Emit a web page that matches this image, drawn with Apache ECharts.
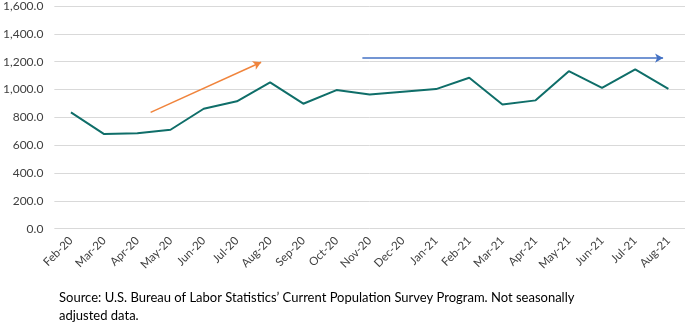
<!DOCTYPE html>
<html>
<head>
<meta charset="utf-8">
<script src="https://cdn.jsdelivr.net/npm/echarts@6/dist/echarts.min.js"></script>
<style>
  html, body { margin: 0; padding: 0; background: #fff; }
  #chart { width: 685px; height: 325px; }
</style>
</head>
<body>
<div id="chart"></div>
<script>
const months = ['Feb-20', 'Mar-20', 'Apr-20', 'May-20', 'Jun-20', 'Jul-20', 'Aug-20', 'Sep-20', 'Oct-20',
  'Nov-20', 'Dec-20', 'Jan-21', 'Feb-21', 'Mar-21', 'Apr-21', 'May-21', 'Jun-21', 'Jul-21', 'Aug-21'];
const values = [836, 680, 685, 711, 862, 915, 1051, 898, 996, 965, 984, 1003, 1084, 893, 922, 1132, 1012, 1144, 1005];
const yTicks = { min: 0, max: 1600, interval: 200 };

// trend arrows drawn on the chart (position in months from Feb-20, value)
const orangeArrow = [[2.4, 836], [5.73, 1196]];
const blueArrow = [[8.78, 1226], [17.84, 1226]];

const sourceNote = 'Source: U.S. Bureau of Labor Statistics\u2019 Current Population Survey Program. Not seasonally\nadjusted data.';

const chart = echarts.init(document.getElementById('chart'));

// arrows sit on a hidden value axis lined up with the category centres
const arrowLine = (pts, color) => ({
  type: 'line',
  xAxisIndex: 1,
  data: [],
  silent: true,
  markLine: {
    silent: true,
    symbol: ['none', 'arrow'],
    symbolSize: [7, 8],
    label: { show: false },
    lineStyle: { color, width: 1.5, type: 'solid' },
    data: [[{ coord: pts[0] }, { coord: pts[1] }]],
  },
});

const option = {
  animation: false,
  textStyle: { fontFamily: 'Lato' },
  grid: { left: 52, right: 0, top: 6, bottom: 96.3, containLabel: false },
  title: {
    text: sourceNote,
    left: 59,
    top: 289,
    padding: 0,
    textStyle: { fontSize: 13, fontWeight: 'normal', color: '#000', lineHeight: 18, fontFamily: 'Lato' },
  },
  xAxis: [
    {
      type: 'category',
      data: months,
      boundaryGap: true,
      axisLine: { show: false },
      axisTick: { show: false },
      axisLabel: { rotate: 45, interval: 0, fontSize: 11.5, color: '#404040', margin: 10, fontFamily: 'Lato' },
    },
    {
      type: 'value',
      min: -0.5,
      max: months.length - 0.5,
      show: false,
      axisLine: { show: false, onZero: false },
      axisTick: { show: false },
      axisLabel: { show: false },
      splitLine: { show: false },
    },
  ],
  yAxis: {
    type: 'value',
    min: yTicks.min,
    max: yTicks.max,
    interval: yTicks.interval,
    axisLine: { show: false, onZero: false },
    axisTick: { show: false },
    axisLabel: {
      fontSize: 12,
      color: '#404040',
      margin: 11,
      fontFamily: 'Lato',
      formatter: (v) => v.toLocaleString('en-US', { minimumFractionDigits: 1, maximumFractionDigits: 1 }),
    },
    splitLine: { lineStyle: { color: '#d9d9d9', width: 1 } },
  },
  series: [
    {
      type: 'line',
      data: values,
      showSymbol: false,
      lineStyle: { color: '#0f6e69', width: 2 },
      itemStyle: { color: '#0f6e69' },
    },
    arrowLine(orangeArrow, '#f0843c'),
    arrowLine(blueArrow, '#4472c4'),
  ],
};

chart.setOption(option);
</script>
</body>
</html>
